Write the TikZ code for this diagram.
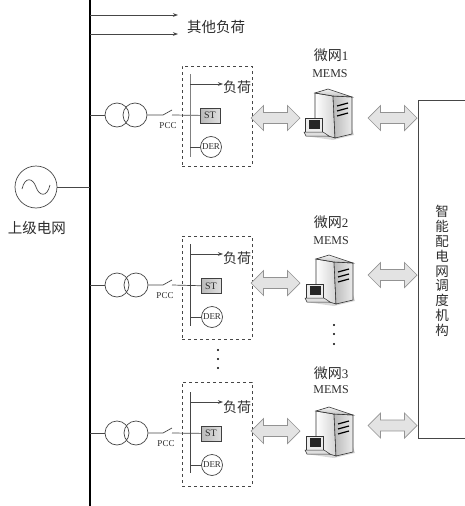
\documentclass[tikz,border=0pt]{standalone}
\usepackage{fontspec}
\setmainfont{Liberation Serif}
\newfontfamily\cjk{Noto Sans CJK SC}
\usetikzlibrary{shapes.arrows, arrows.meta}
\definecolor{inkgray}{RGB}{45, 45, 45}
\definecolor{linegray}{RGB}{70, 70, 70}
\tikzset{
  >=Stealth,
  feeder/.style={draw=linegray, line width=0.7pt},
  busline/.style={draw=black, line width=2pt},
  loadarrow/.style={-{Stealth[length=1.8mm, width=1.3mm]}, draw=linegray, line width=0.7pt},
  mems/.pic={
    % shadow, tower, vents, then the small terminal
    \fill[gray!30] (2,47) -- (30,51) -- (51,46) -- (49,40) -- (10,42) -- cycle;
    \draw[black!80, line width=0.6pt, left color=white, right color=gray!35] (12,4) -- (30,7) -- (32,49) -- (12,43) -- cycle;
    \draw[black!80, line width=0.6pt, left color=gray!55, right color=gray!15] (30,7) -- (49,8) -- (49,45) -- (32,49) -- cycle;
    \draw[black!80, line width=0.6pt, top color=gray!10, bottom color=gray!50] (12,4) -- (25,0) -- (49,8) -- (30,7) -- cycle;
    \draw[black, line width=1.2pt] (34,17) -- (45,14) (34,22) -- (45,19) (34,27) -- (45,24);
    \draw[black!80, line width=0.5pt, fill=gray!15] (2,29) rectangle (19,43);
    \fill[black!85] (6,31) rectangle (17,40);
    \draw[black!80, line width=0.5pt, fill=gray!25] (1,43) -- (20,43) -- (26,47) -- (3,47) -- cycle;
  }
}
\begin{document}
\begin{tikzpicture}[
    x=1pt, y=-1pt,
    source/.style={circle, draw=linegray, line width=0.7pt, minimum size=42pt, inner sep=0pt},
    trafo/.style={circle, draw=linegray, line width=0.7pt, minimum size=24pt, inner sep=0pt},
    stbox/.style={rectangle, draw=black!75, left color=gray!55, right color=gray!25, minimum width=20pt, minimum height=15pt, inner sep=0pt, font=\fontsize{10}{11}\selectfont, text=inkgray},
    der/.style={circle, draw=linegray, line width=0.7pt, minimum size=21pt, inner sep=0pt, font=\fontsize{9}{10}\selectfont, text=inkgray},
    zone/.style={rectangle, draw=linegray, dashed, line width=0.7pt, minimum width=70pt, inner sep=0pt},
    bigarrow/.style={double arrow, draw=gray!85, line width=0.7pt, fill=gray!22, minimum height=49pt, minimum width=25pt, double arrow head extend=7pt, inner xsep=0pt, inner ysep=5pt},
    cjktext/.style={font=\cjk\fontsize{14}{16}\selectfont, text=inkgray, inner sep=0pt},
    small/.style={font=\fontsize{9}{10}\selectfont, text=inkgray, inner sep=0pt},
    memstext/.style={font=\fontsize{12}{14}\selectfont, text=inkgray, inner sep=0pt},
    dot/.style={circle, fill=black, minimum size=2.2pt, inner sep=0pt}
]
    \useasboundingbox (0,0) rectangle (464,506);

    % Main bus and the other loads
    \coordinate (bustop) at (90,0);
    \coordinate (busbot) at (90,506);
    \draw[busline] (bustop) -- (busbot);
    \coordinate (other1) at (90,15);
    \coordinate (other2) at (90,34);
    \coordinate (otherend1) at (178,15);
    \coordinate (otherend2) at (178,34);
    \draw[loadarrow] (other1) -- (otherend1);
    \draw[loadarrow] (other2) -- (otherend2);
    \node[cjktext, font=\cjk\fontsize{14.5}{16}\selectfont] (others) at (216,27) {其他负荷};

    % Upper grid
    \node[source] (grid) at (36,187) {};
    \coordinate (busgrid) at (90,187);
    \draw[feeder] (grid) -- (busgrid);
    \draw[linegray, line width=0.7pt] (22,189) .. controls (25,176) and (33,178) .. (36,187) .. controls (39,196) and (47,198) .. (50,185);
    \node[cjktext, font=\cjk\fontsize{14.5}{16}\selectfont] (gridlabel) at (37,228) {上级电网};

    % Feeder 1
    \coordinate (bus1) at (90,115);
    \node[trafo] (t1a) at (117,115) {};
    \node[trafo] (t1b) at (135,115) {};
    \coordinate (sw1a) at (163,115);
    \coordinate (sw1c) at (172,110);
    \coordinate (sw1b) at (172,115);
    \node[small] (pcc1) at (168,126) {PCC};
    \node[zone, minimum height=100pt] (zone1) at (217,116) {};
    \coordinate (in1top) at (190,74);
    \coordinate (in1bot) at (190,157);
    \coordinate (load1) at (190,84);
    \coordinate (der1) at (190,147);
    \node[stbox] (st1) at (210,115.5) {ST};
    \node[der] (d1) at (211,147) {DER};
    \node[cjktext, anchor=west] (l1) at (223,87) {负荷};
    \draw[feeder] (bus1) -- (t1a);
    \draw[feeder] (t1b) -- (sw1a) -- (sw1c);
    \draw[feeder] (sw1b) -- (st1);
    \draw[feeder, line width=1pt, draw=gray] (in1top) -- (in1bot);
    \draw[loadarrow] (load1) -- (load1 -| l1.west);
    \draw[feeder] (der1) -- (d1);

    % Feeder 2
    \coordinate (bus2) at (90,285);
    \node[trafo] (t2a) at (117,285) {};
    \node[trafo] (t2b) at (136,285) {};
    \coordinate (sw2a) at (163,285);
    \coordinate (sw2c) at (172,280);
    \coordinate (sw2b) at (172,285);
    \node[small] (pcc2) at (165,296) {PCC};
    \node[zone, minimum height=103pt] (zone2) at (217,287.5) {};
    \coordinate (in2top) at (190,244);
    \coordinate (in2bot) at (190,326);
    \coordinate (load2) at (190,254);
    \coordinate (der2) at (190,317);
    \node[stbox] (st2) at (211,286) {ST};
    \node[der] (d2) at (212,317) {DER};
    \node[cjktext, anchor=west] (l2) at (223,258) {负荷};
    \draw[feeder] (bus2) -- (t2a);
    \draw[feeder] (t2b) -- (sw2a) -- (sw2c);
    \draw[feeder] (sw2b) -- (st2);
    \draw[feeder, line width=1pt] (in2top) -- (in2bot);
    \draw[loadarrow] (load2) -- (load2 -| l2.west);
    \draw[feeder] (der2) -- (d2);

    % Feeder 3
    \coordinate (bus3) at (90,433);
    \node[trafo] (t3a) at (117,433) {};
    \node[trafo] (t3b) at (136,433) {};
    \coordinate (sw3a) at (163,433);
    \coordinate (sw3c) at (172,428);
    \coordinate (sw3b) at (172,433);
    \node[small] (pcc3) at (166,444) {PCC};
    \node[zone, minimum height=104pt] (zone3) at (217,434) {};
    \coordinate (in3top) at (190,392);
    \coordinate (in3bot) at (190,473);
    \coordinate (load3) at (190,402);
    \coordinate (der3) at (190,465);
    \node[stbox] (st3) at (211,433.5) {ST};
    \node[der] (d3) at (212,465) {DER};
    \node[cjktext, anchor=west] (l3) at (223,407) {负荷};
    \draw[feeder] (bus3) -- (t3a);
    \draw[feeder] (t3b) -- (sw3a) -- (sw3c);
    \draw[feeder] (sw3b) -- (st3);
    \draw[feeder, line width=1pt] (in3top) -- (in3bot);
    \draw[loadarrow] (load3) -- (load3 -| l3.west);
    \draw[feeder] (der3) -- (d3);

    % Dots between the feeders
    \node[dot] (fa) at (218,350) {};
    \node[dot] (fb) at (218,359) {};
    \node[dot] (fc) at (218,368) {};
    \node[dot] (ma) at (334,325) {};
    \node[dot] (mb) at (334,334) {};
    \node[dot] (mc) at (334,344) {};

    % Microgrid servers
    \node[cjktext] (mg1) at (331,55) {微网{\rmfamily\fontsize{13}{14}\selectfont 1}};
    \node[memstext] (ms1) at (330,74) {MEMS};
    \pic (server1) at (303,89) {mems};
    \node[cjktext] (mg2) at (331,222) {微网{\rmfamily\fontsize{13}{14}\selectfont 2}};
    \node[memstext] (ms2) at (331,241) {MEMS};
    \pic (server2) at (304,255) {mems};
    \node[cjktext] (mg3) at (331,373) {微网{\rmfamily\fontsize{13}{14}\selectfont 3}};
    \node[memstext] (ms3) at (331,390) {MEMS};
    \pic (server3) at (304,407) {mems};

    % Dispatch centre
    \node[draw=linegray, line width=0.8pt, rectangle, minimum width=52pt, minimum height=338pt, inner sep=0pt] (centre) at (444,269) {};
    \node[cjktext, align=center, font=\cjk\fontsize{13.5}{14.8}\selectfont] (centrelabel) at (442,271) {智\\能\\配\\电\\网\\调\\度\\机\\构};

    % Exchange arrows
    \node[bigarrow] (ex1) at (275.5,118) {};
    \node[bigarrow] (ex2) at (275.5,283) {};
    \node[bigarrow] (ex3) at (275.5,431) {};
    \node[bigarrow] (up1) at (392.5,118) {};
    \node[bigarrow] (up2) at (392.5,275) {};
    \node[bigarrow] (up3) at (392.5,425.5) {};
\end{tikzpicture}
\end{document}
